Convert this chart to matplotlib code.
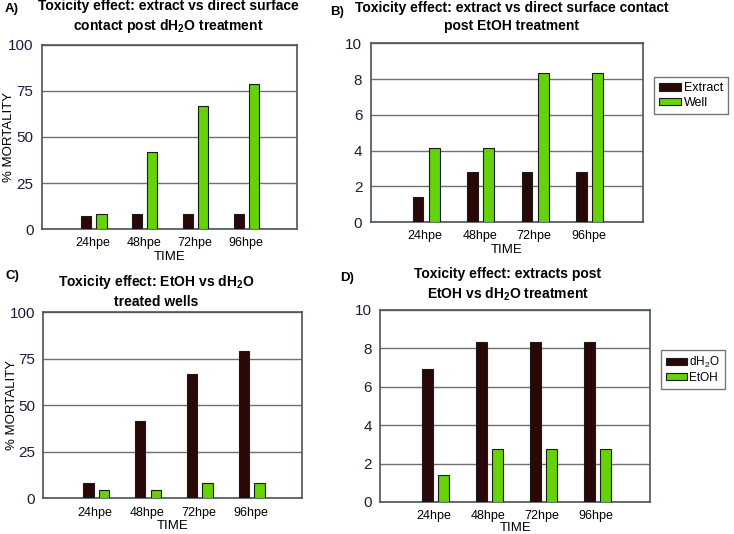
import numpy as np
import matplotlib.pyplot as plt

plt.rcParams['font.family'] = ['Liberation Sans', 'DejaVu Sans']
plt.rcParams['mathtext.fontset'] = 'custom'
plt.rcParams['mathtext.rm'] = 'Liberation Sans'
plt.rcParams['mathtext.bf'] = 'Liberation Sans:bold'

times = ['24hpe', '48hpe', '72hpe', '96hpe']

# A) dH2O treatment, % mortality
a_extract = [6.9, 8.3, 8.3, 8.3]
a_well = [8.3, 41.7, 66.7, 79.0]
# B) EtOH treatment
b_extract = [1.39, 2.78, 2.78, 2.78]
b_well = [4.17, 4.17, 8.33, 8.33]
# C) treated wells
c_dh2o = [8.3, 41.7, 66.7, 79.0]
c_etoh = [4.2, 4.2, 8.3, 8.3]
# D) extracts
d_dh2o = [6.94, 8.33, 8.33, 8.33]
d_etoh = [1.39, 2.78, 2.78, 2.78]

dark = '#2b0808'
green = '#66d20a'
edge = '#1a1a1a'
tickcol = '#1c1c3a'

fig = plt.figure(figsize=(7.34, 5.34), dpi=100)


def panel(rect, s1, s2, ymax, step, ylabel_x=None, legend=None, leg_y=0.7,
          leg_size=9, xpad=1):
    ax = fig.add_axes(rect)
    x = np.arange(1, 5)
    b1 = ax.bar(x - 0.13, s1, 0.2, color=dark, edgecolor=edge, lw=0.8, zorder=3)
    b2 = ax.bar(x + 0.17, s2, 0.2, color=green, edgecolor=edge, lw=0.8, zorder=3)
    ax.set_xlim(0, 5)
    ax.set_ylim(0, ymax)
    ax.set_yticks(np.arange(0, ymax + 0.1, step))
    ax.set_xticks(x)
    ax.set_xticklabels(times, fontsize=9)
    ax.tick_params(length=0, pad=6)
    for t in ax.get_yticklabels():
        t.set_fontsize(11)
        t.set_color(tickcol)
    ax.grid(axis='y', color='#707070', lw=1, zorder=0)
    for s in ax.spines.values():
        s.set_color('#4a5555')
        s.set_linewidth(1.2)
    ax.set_xlabel('TIME', fontsize=9.5, labelpad=xpad)
    if ylabel_x is not None:
        ax.set_ylabel('% MORTALITY', fontsize=9.5)
        ax.yaxis.set_label_coords(ylabel_x, 0.5)
    if legend:
        ax.legend([b1, b2], legend, loc='center left', bbox_to_anchor=(1.04, leg_y),
                  borderaxespad=0, fontsize=leg_size, frameon=True, fancybox=False,
                  edgecolor='#555555', handlelength=1.8, handleheight=0.5,
                  handletextpad=0.2, labelspacing=0.2, borderpad=0.4)
    return ax


panel([0.057, 0.571, 0.347, 0.345], a_extract, a_well, 100, 25, ylabel_x=-0.105)
panel([0.505, 0.584, 0.371, 0.335], b_extract, b_well, 10, 2,
      legend=['Extract', 'Well'], leg_y=0.707)
panel([0.059, 0.067, 0.353, 0.348], c_dh2o, c_etoh, 100, 25, ylabel_x=-0.097)
panel([0.518, 0.060, 0.368, 0.360], d_dh2o, d_etoh, 10, 2,
      legend=[r'dH$_2$O', 'EtOH'], leg_y=0.69, leg_size=8.5, xpad=0)

tkw = dict(fontsize=10, fontweight='bold', ha='center', va='center',
           linespacing=1.3)
fig.text(168 / 734, 1 - 17 / 534,
         'Toxicity effect: extract vs direct surface\n'
         r'contact post dH$_{\mathbf{2}}$O treatment', **tkw)
fig.text(512 / 734, 1 - 17 / 534,
         'Toxicity effect: extract vs direct surface contact\n'
         'post EtOH treatment', **tkw)
fig.text(156 / 734, 1 - 291 / 534,
         r'Toxicity effect: EtOH vs dH$_{\mathbf{2}}$O' '\ntreated wells', **tkw)
fig.text(508 / 734, 1 - 285 / 534,
         'Toxicity effect: extracts post\n'
         r'EtOH vs dH$_{\mathbf{2}}$O treatment', **tkw)

lkw = dict(fontsize=9.5, fontweight='bold', ha='left', va='center')
fig.text(5 / 734, 1 - 9 / 534, 'A)', **lkw)
fig.text(330 / 734, 1 - 12 / 534, 'B)', **lkw)
fig.text(5 / 734, 1 - 276 / 534, 'C)', **lkw)
fig.text(340 / 734, 1 - 278 / 534, 'D)', **lkw)

fig.savefig('out.png', dpi=100)
